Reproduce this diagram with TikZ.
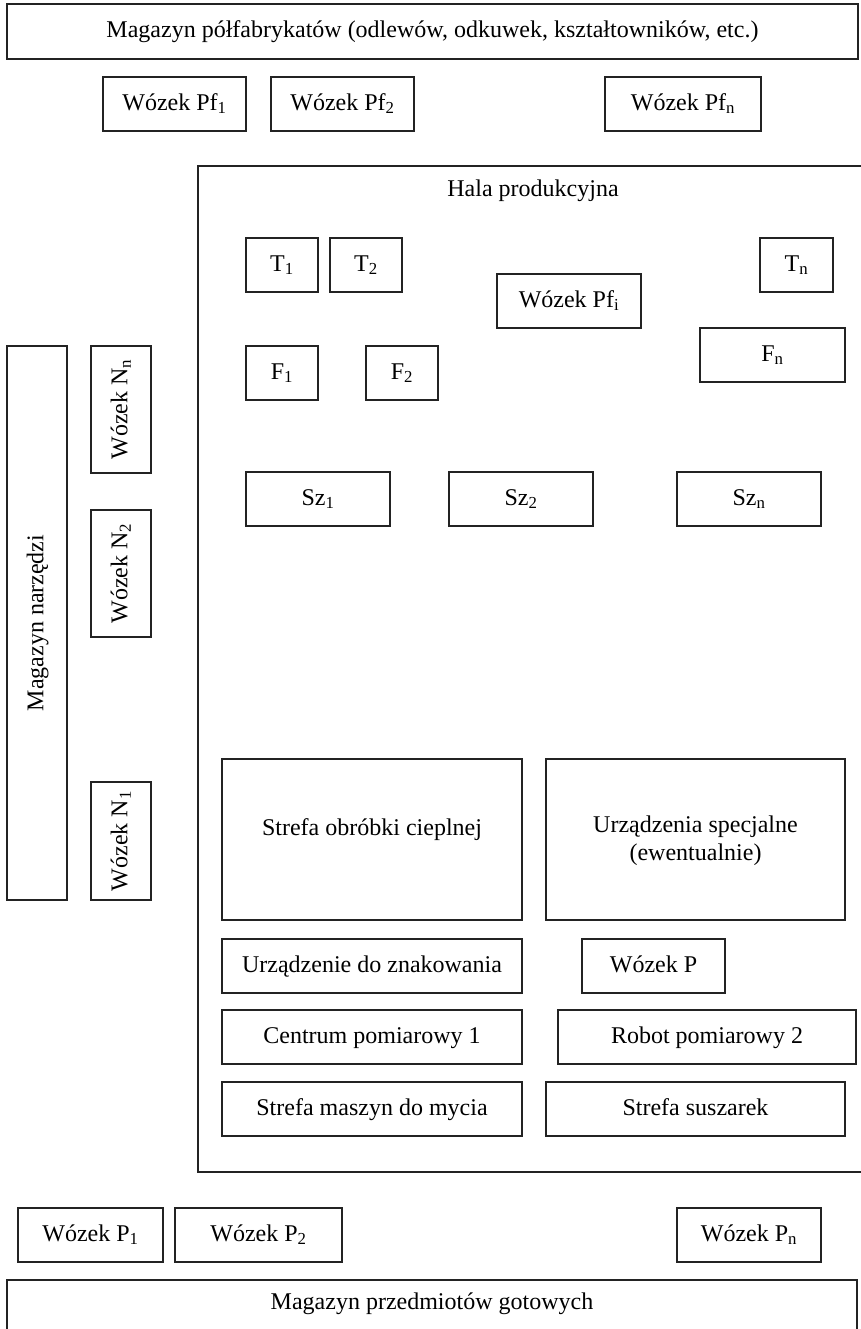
\documentclass[tikz,border=0pt]{standalone}
\usepackage{fontspec}
\setmainfont{Liberation Serif}
\definecolor{edge}{RGB}{35,35,35}
\tikzset{
  box/.style={draw=edge, line width=1.3pt, inner sep=0pt, align=center,
              text height=17.5pt, text depth=5pt},
  txt/.style={inner sep=0pt, align=center},
}
\newcommand{\sbs}[1]{\textsubscript{#1}}
\begin{document}
\begin{tikzpicture}[x=1pt, y=-1pt, font=\fontsize{24}{28}\selectfont]
\useasboundingbox (0,0) rectangle (861,1329);
\clip (0,0) rectangle (861,1329);

% top store
\node[box, minimum width=851, minimum height=55] (magpf) at (432.5,31.5)
  {Magazyn półfabrykatów (odlewów, odkuwek, kształtowników, etc.)};
\node[box, minimum width=143, minimum height=54] (pf1) at (174.5,104) {Wózek Pf\sbs{1}};
\node[box, minimum width=143, minimum height=54] (pf2) at (342.5,104) {Wózek Pf\sbs{2}};
\node[box, minimum width=156, minimum height=54] (pfn) at (683,104) {Wózek Pf\sbs{n}};

% production hall
\node[draw=edge, line width=1.3pt, minimum width=664, minimum height=1006, inner sep=0pt] (hala) at (530,669) {};
\node[txt] (halat) at (533,191) {Hala produkcyjna};

\node[box, minimum width=72, minimum height=54] (t1) at (282,265) {T\sbs{1}};
\node[box, minimum width=72, minimum height=54] (t2) at (366,265) {T\sbs{2}};
\node[box, minimum width=73, minimum height=54] (tn) at (796.5,265) {T\sbs{n}};
\node[box, minimum width=144, minimum height=54] (pfi) at (569,301) {Wózek Pf\sbs{i}};
\node[box, minimum width=72, minimum height=54] (f1) at (282,373) {F\sbs{1}};
\node[box, minimum width=72, minimum height=54] (f2) at (402,373) {F\sbs{2}};
\node[box, minimum width=145, minimum height=54] (fn) at (772.5,355) {F\sbs{n}};
\node[box, minimum width=144, minimum height=54] (sz1) at (318,499) {Sz\sbs{1}};
\node[box, minimum width=144, minimum height=54] (sz2) at (521,499) {Sz\sbs{2}};
\node[box, minimum width=144, minimum height=54] (szn) at (749,499) {Sz\sbs{n}};

\node[box, minimum width=300, minimum height=161] (obr) at (372,839.5) {};
\node[txt] (obrt) at (372,830) {Strefa obróbki cieplnej};
\node[draw=edge, line width=1.3pt, inner sep=0pt, minimum width=299, minimum height=161] (spec) at (695.5,839.5) {};
\node[txt] (spect) at (695.5,841) {Urządzenia specjalne\\(ewentualnie)};
\node[box, minimum width=300, minimum height=54] (znak) at (372,966) {Urządzenie do znakowania};
\node[box, minimum width=143, minimum height=54] (wp) at (653.5,966) {Wózek P};
\node[box, minimum width=300, minimum height=54] (cp1) at (372,1037) {Centrum pomiarowy 1};
\node[box, minimum width=298, minimum height=54] (rp2) at (707,1037) {Robot pomiarowy 2};
\node[box, minimum width=300, minimum height=54] (myc) at (372,1109) {Strefa maszyn do mycia};
\node[box, minimum width=299, minimum height=54] (sus) at (695.5,1109) {Strefa suszarek};

% tool store
\node[box, rotate=90, minimum width=554, minimum height=60] (magn) at (37,623) {Magazyn narzędzi};
\node[box, rotate=90, minimum width=127, minimum height=60] (nn) at (121,409.5) {Wózek N\sbs{n}};
\node[box, rotate=90, minimum width=127, minimum height=60] (n2) at (121,573.5) {Wózek N\sbs{2}};
\node[box, rotate=90, minimum width=118, minimum height=60] (n1) at (121,841) {Wózek N\sbs{1}};

% finished goods
\node[box, minimum width=145, minimum height=54] (p1) at (90.5,1235) {Wózek P\sbs{1}};
\node[box, minimum width=167, minimum height=54] (p2) at (258.5,1235) {Wózek P\sbs{2}};
\node[box, minimum width=144, minimum height=54] (pn) at (749,1235) {Wózek P\sbs{n}};
\node[draw=edge, line width=1.3pt, minimum width=850, minimum height=60, inner sep=0pt] (magg) at (432,1310) {};
\node[txt] (maggt) at (432,1304) {Magazyn przedmiotów gotowych};
\end{tikzpicture}
\end{document}
